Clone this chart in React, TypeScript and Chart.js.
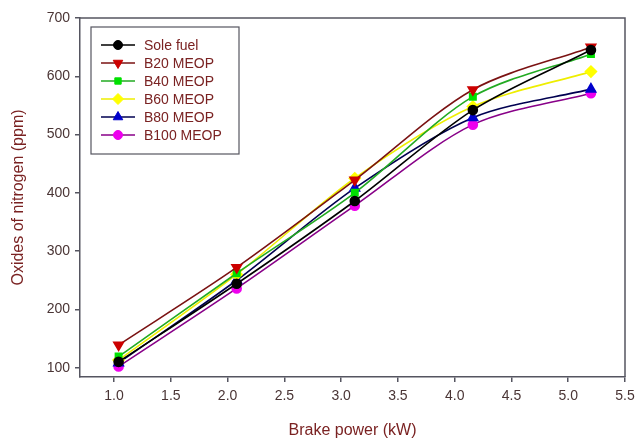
import React, { useEffect, useRef } from "react";
import { Chart, registerables } from "chart.js";
import { drawPoint } from "chart.js/helpers";

Chart.register(...registerables);

const xValues = [1.04, 2.08, 3.12, 4.16, 5.2];
const seriesNames = ["Sole fuel", "B20 MEOP", "B40 MEOP", "B60 MEOP", "B80 MEOP", "B100 MEOP"];
const soleFuel = [110, 244, 386, 542, 645];
const b20 = [139, 272, 422, 577, 650];
const b40 = [119, 262, 400, 565, 638];
const b60 = [113, 260, 425, 548, 608];
const b80 = [108, 250, 408, 529, 578];
const b100 = [102, 236, 378, 517, 571];
const xTicks = [1.0, 1.5, 2.0, 2.5, 3.0, 3.5, 4.0, 4.5, 5.0, 5.5];
const yTicks = [100, 200, 300, 400, 500, 600, 700];

const styles = [
  { line: "#000000", fill: "#000000", point: "circle", rot: 0, r: 4.5 },
  { line: "#7a1212", fill: "#cc0000", point: "triangle", rot: 180, r: 5.5 },
  { line: "#22aa22", fill: "#00e000", point: "rect", rot: 0, r: 4.5 },
  { line: "#eeee00", fill: "#ffff00", point: "rectRot", rot: 0, r: 5.5 },
  { line: "#000050", fill: "#0000cc", point: "triangle", rot: 0, r: 5.5 },
  { line: "#880088", fill: "#ee00ee", point: "circle", rot: 0, r: 4.5 },
];

const AXIS_COLOR = "#555560";
const TICK_COLOR = "#4a3535";
const TITLE_COLOR = "#7a2222";
const FONT = "'Liberation Sans', Arial, sans-serif";

export default function App() {
  const ref = useRef<HTMLCanvasElement>(null);
  useEffect(() => {
    if (!ref.current) return;
    const all = [soleFuel, b20, b40, b60, b80, b100];
    const datasets = all.map((vals, i) => ({
      label: seriesNames[i],
      data: vals.map((v, j) => ({ x: xValues[j], y: v })),
      borderColor: styles[i].line,
      backgroundColor: styles[i].fill,
      pointBackgroundColor: styles[i].fill,
      pointBorderColor: styles[i].fill,
      pointStyle: styles[i].point,
      pointRotation: styles[i].rot,
      pointRadius: styles[i].r,
      borderWidth: 1.6,
      tension: 0.3,
    }));

    const framePlugin = {
      id: "frame",
      afterDraw(chart: any) {
        const { ctx, chartArea } = chart;
        ctx.save();
        ctx.strokeStyle = AXIS_COLOR;
        ctx.lineWidth = 1.5;
        ctx.beginPath();
        ctx.moveTo(chartArea.left, chartArea.top);
        ctx.lineTo(chartArea.right, chartArea.top);
        ctx.lineTo(chartArea.right, chartArea.bottom);
        ctx.stroke();
        // legend
        const bx = 91, by = 27, bw = 148, bh = 127;
        ctx.fillStyle = "#ffffff";
        ctx.fillRect(bx, by, bw, bh);
        ctx.strokeStyle = "#555560";
        ctx.lineWidth = 1.2;
        ctx.strokeRect(bx, by, bw, bh);
        const rows = [45, 63, 81, 99, 117, 135];
        rows.forEach((yy, i) => {
          const s = styles[i];
          ctx.strokeStyle = s.line;
          ctx.lineWidth = 1.6;
          ctx.beginPath();
          ctx.moveTo(101, yy);
          ctx.lineTo(135, yy);
          ctx.stroke();
          ctx.fillStyle = s.fill;
          ctx.strokeStyle = s.fill;
          ctx.lineWidth = 1;
          drawPoint(ctx, { pointStyle: s.point, rotation: s.rot, radius: s.r, borderWidth: 1 }, 118, yy);
          ctx.fillStyle = TITLE_COLOR;
          ctx.font = "14px " + FONT;
          ctx.textBaseline = "middle";
          ctx.textAlign = "left";
          ctx.fillText(seriesNames[i], 144, yy + 1);
        });
        ctx.restore();
      },
    };

    const chart = new Chart(ref.current, {
      type: "line",
      data: { datasets },
      options: {
        animation: false,
        responsive: false,
        layout: { padding: { top: 18, right: 13, left: 0, bottom: 0 } },
        plugins: { legend: { display: false }, tooltip: { enabled: false } },
        scales: {
          x: {
            type: "linear",
            min: 0.7,
            max: 5.5,
            afterBuildTicks: (s: any) => {
              s.ticks = xTicks.map((v) => ({ value: v }));
            },
            afterFit: (s: any) => {
              s.height = 61;
              s.paddingLeft = 0;
              s.paddingRight = 0;
            },
            grid: { display: true, drawOnChartArea: false, drawTicks: true, tickLength: 5, color: AXIS_COLOR, lineWidth: 1.5 },
            border: { display: true, color: AXIS_COLOR, width: 1.5 },
            ticks: {
              color: TICK_COLOR,
              font: { family: FONT, size: 14 },
              padding: 6,
              maxRotation: 0,
              callback: (v: any) => Number(v).toFixed(1),
            },
            title: {
              display: true,
              text: "Brake power (kW)",
              color: TITLE_COLOR,
              font: { family: FONT, size: 16 },
              padding: { top: 0, bottom: -2 },
            },
          },
          y: {
            type: "linear",
            min: 84,
            max: 700,
            afterBuildTicks: (s: any) => {
              s.ticks = yTicks.map((v) => ({ value: v }));
            },
            afterFit: (s: any) => {
              s.width = 80;
              s.paddingTop = 0;
              s.paddingBottom = 0;
            },
            grid: { display: true, drawOnChartArea: false, drawTicks: true, tickLength: 5, color: AXIS_COLOR, lineWidth: 1.5 },
            border: { display: true, color: AXIS_COLOR, width: 1.5 },
            ticks: {
              color: TICK_COLOR,
              font: { family: FONT, size: 14 },
              padding: 5,
            },
            title: {
              display: true,
              text: "Oxides of nitrogen (ppm)",
              color: TITLE_COLOR,
              font: { family: FONT, size: 16 },
              padding: { top: 9, bottom: 4 },
            },
          },
        },
      },
      plugins: [framePlugin],
    } as any);
    return () => chart.destroy();
  }, []);
  return (
    <div style={{ position: "absolute", left: 0, top: 0, width: 638, height: 438, background: "#fff" }}>
      <canvas ref={ref} width={638} height={438} style={{ width: 638, height: 438, display: "block" }} />
    </div>
  );
}
